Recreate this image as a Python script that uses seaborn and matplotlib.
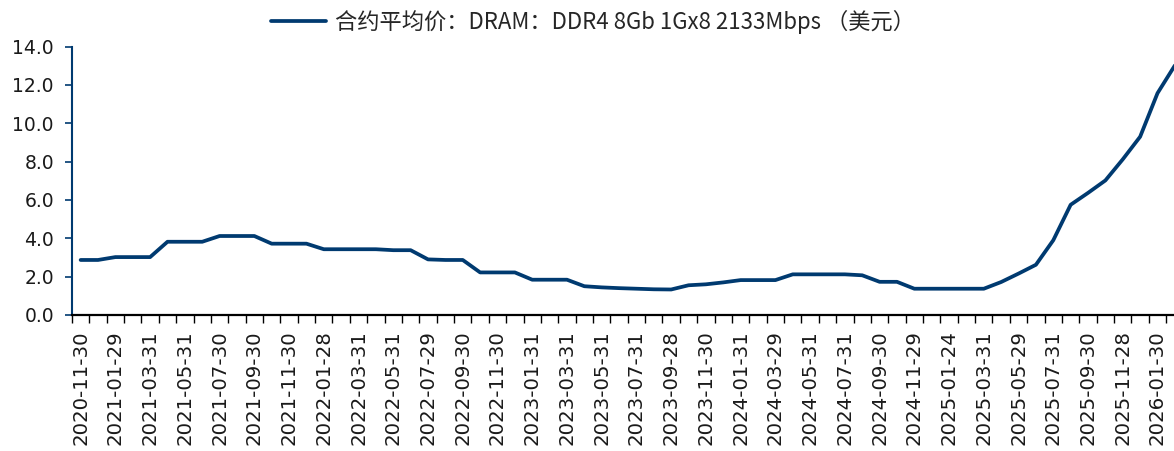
import numpy as np
import pandas as pd
import matplotlib
matplotlib.use("Agg")
import matplotlib.pyplot as plt
import seaborn as sns

# month-end dates (every other one is shown on the axis)
dates = [
    "2020-11-30", "2020-12-31", "2021-01-29", "2021-02-26", "2021-03-31", "2021-04-30",
    "2021-05-31", "2021-06-30", "2021-07-30", "2021-08-31", "2021-09-30", "2021-10-29",
    "2021-11-30", "2021-12-31", "2022-01-28", "2022-02-28", "2022-03-31", "2022-04-29",
    "2022-05-31", "2022-06-30", "2022-07-29", "2022-08-31", "2022-09-30", "2022-10-31",
    "2022-11-30", "2022-12-30", "2023-01-31", "2023-02-28", "2023-03-31", "2023-04-28",
    "2023-05-31", "2023-06-30", "2023-07-31", "2023-08-31", "2023-09-28", "2023-10-31",
    "2023-11-30", "2023-12-29", "2024-01-31", "2024-02-29", "2024-03-29", "2024-04-30",
    "2024-05-31", "2024-06-28", "2024-07-31", "2024-08-30", "2024-09-30", "2024-10-31",
    "2024-11-29", "2024-12-31", "2025-01-24", "2025-02-28", "2025-03-31", "2025-04-30",
    "2025-05-29", "2025-06-30", "2025-07-31", "2025-08-29", "2025-09-30", "2025-10-31",
    "2025-11-28", "2025-12-31", "2026-01-30", "2026-02-27",
]

price = [
    2.87, 2.87, 3.02, 3.02, 3.02, 3.82, 3.82, 3.82, 4.12, 4.12, 4.12, 3.72,
    3.72, 3.72, 3.43, 3.43, 3.43, 3.43, 3.38, 3.38, 2.90, 2.87, 2.87, 2.22,
    2.22, 2.22, 1.84, 1.84, 1.84, 1.50, 1.44, 1.40, 1.37, 1.34, 1.33, 1.55,
    1.60, 1.70, 1.82, 1.82, 1.82, 2.12, 2.12, 2.12, 2.12, 2.07, 1.73, 1.73,
    1.37, 1.37, 1.37, 1.37, 1.37, 1.72, 2.16, 2.62, 3.90, 5.75, 6.37, 7.02,
    8.12, 9.30, 11.57, 13.02,
]

series_name = "合约平均价：DRAM：DDR4 8Gb 1Gx8 2133Mbps （美元）"
navy = "#003A70"

sns.set_style("ticks")
plt.rcParams["font.family"] = ["DejaVu Sans"]

df = pd.DataFrame({"date": dates, "price": price})

fig = plt.figure(figsize=(11.74, 4.51), dpi=100)
ax = fig.add_axes([0.0613, 0.3016, 0.9387, 0.595])

sns.lineplot(data=df, x="date", y="price", ax=ax, color=navy,
             linewidth=2.7, label=series_name, legend=False)

ax.set_xlim(-0.5, len(dates) - 1.05)
ax.set_ylim(0, 14)
ax.set_yticks(np.arange(0, 14.1, 2))
ax.set_yticklabels([f"{v:.1f}" for v in np.arange(0, 14.1, 2)], fontsize=13.5, color="#1a1a1a")

ax.set_xticks(range(0, len(dates), 2))
ax.set_xticklabels(dates[::2], rotation=90, fontsize=14.2, color="#1a1a1a")
ax.set_xticks(np.arange(-0.5, len(dates) - 1, 1), minor=True)
ax.tick_params(axis="x", which="major", length=0, pad=11)
ax.tick_params(axis="x", which="minor", length=6, width=1, color="black")
ax.tick_params(axis="y", length=5, width=1.2, color=navy, pad=8)

ax.set_xlabel("")
ax.set_ylabel("")
for side in ["top", "right"]:
    ax.spines[side].set_visible(False)
ax.spines["left"].set_color(navy)
ax.spines["left"].set_linewidth(1.5)
ax.spines["bottom"].set_color("black")
ax.spines["bottom"].set_linewidth(1.6)

handles, labels = ax.get_legend_handles_labels()
fig.legend(handles, labels, loc="center", bbox_to_anchor=(0.505, 0.951),
           frameon=False, handlelength=2.5, handletextpad=0.4,
           prop={"family": ["Noto Sans CJK SC", "DejaVu Sans"], "size": 16})

fig.savefig("out.png", dpi=100)
plt.close(fig)
